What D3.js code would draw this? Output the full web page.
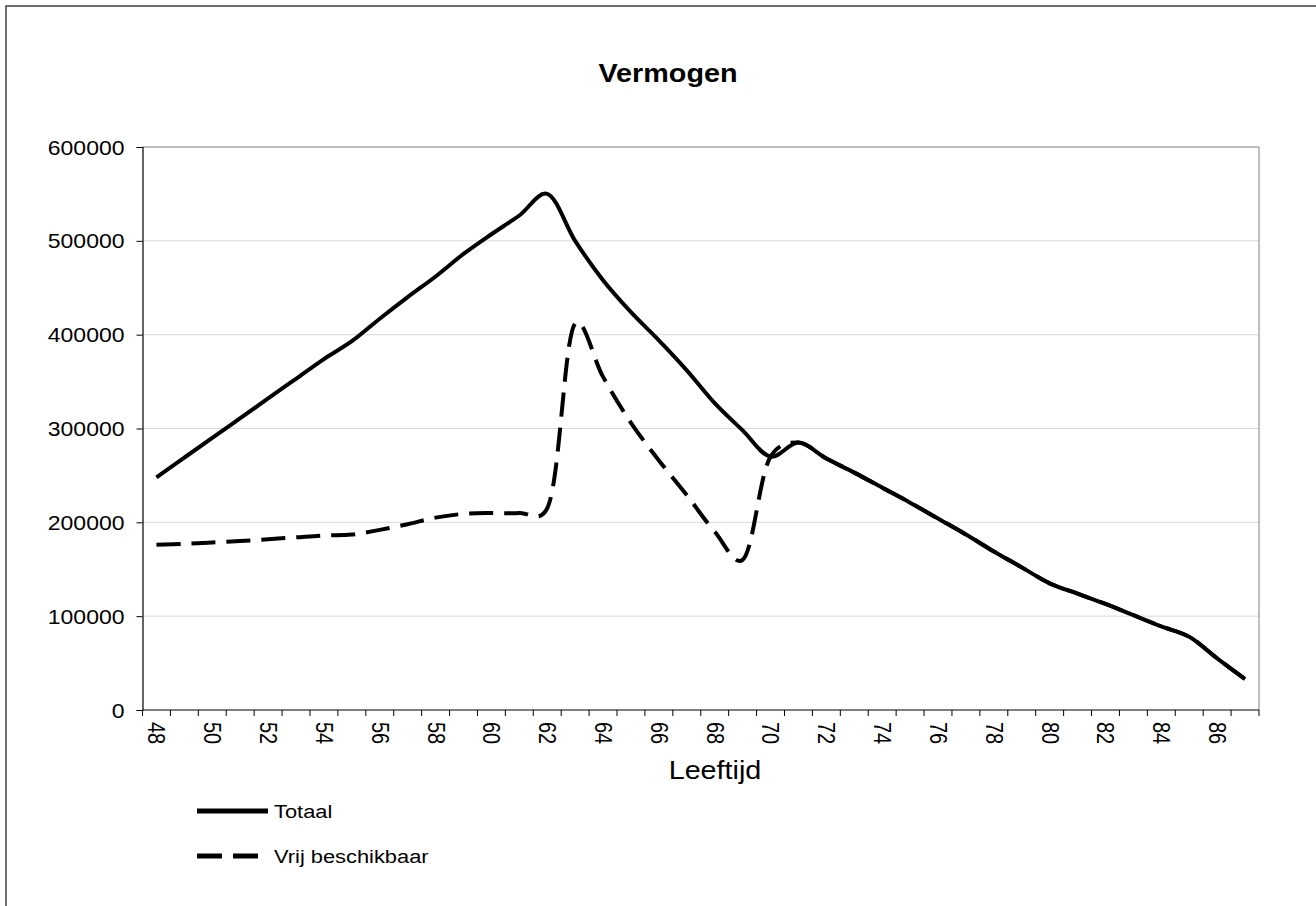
<!DOCTYPE html>
<html>
<head>
<meta charset="utf-8">
<script src="https://cdn.jsdelivr.net/npm/d3@7"></script>
<style>
  body { margin: 0; background: #fff; }
  text { font-family: Arial, "Liberation Sans", sans-serif; fill: #000; }
</style>
</head>
<body>
<svg width="1316" height="906"></svg>
<script>
var ages = [48,49,50,51,52,53,54,55,56,57,58,59,60,61,62,63,64,65,66,67,
            68,69,70,71,72,73,74,75,76,77,78,79,80,81,82,83,84,85,86,87]
var tickLabels = [48,50,52,54,56,58,60,62,64,66,68,70,72,74,76,78,80,82,84,86]
var yTicks = [0,100000,200000,300000,400000,500000,600000]

var totaal = [248000,269000,290000,311000,332000,353000,374000,393000,417000,440000,
              462000,486000,507000,527000,550000,500000,458000,424000,394000,362000,
              327000,298000,270000,285000,268000,253000,237000,221000,204000,187000,
              169000,152000,135000,124000,113000,101000,89000,78000,55000,33000]
var vrij = [176000,177000,178500,180000,182000,184000,186000,187000,192000,198000,
            205000,209000,210000,210000,215000,412000,355000,306000,266000,229000,
            190000,160000,270000,285000,268000,253000,237000,221000,204000,187000,
            169000,152000,135000,124000,113000,101000,89000,78000,55000,33000]

var seriesNames = ['Totaal', 'Vrij beschikbaar']

var svg = d3.select('svg')
var sx = 1.15 // picture is a bit wider than tall

// outer frame
svg.append('rect')
    .attr('x', 6).attr('y', 6)
    .attr('width', 1400).attr('height', 1000)
    .attr('fill', 'none')
    .attr('stroke', '#404040')
    .attr('stroke-width', 1.5)

var plotL = 142.5, plotR = 1259, plotT = 147, plotB = 710

var x = d3.scaleBand()
    .domain(ages)
    .range([plotL, plotR])
    .padding(0)

var y = d3.scaleLinear()
    .domain([0, 600000])
    .range([plotB, plotT])

// gridlines
svg.append('g')
    .selectAll('line')
    .data(yTicks.filter(function(d){ return d > 0 && d < 600000 }))
    .enter().append('line')
    .attr('x1', plotL).attr('x2', plotR)
    .attr('y1', function(d){ return y(d) }).attr('y2', function(d){ return y(d) })
    .attr('stroke', '#d9d9d9')
    .attr('stroke-width', 1)

// plot border top/right
svg.append('path')
    .attr('d', 'M' + plotL + ',' + y(600000) + 'H' + plotR + 'V' + plotB)
    .attr('fill', 'none')
    .attr('stroke', '#808080')
    .attr('stroke-width', 1)

// y axis
var yAxis = svg.append('g')
    .attr('transform', 'translate(' + plotL + ',0)')
    .call(d3.axisLeft(y).tickValues(yTicks).tickSize(6).tickPadding(0).tickFormat(d3.format('d')))
yAxis.select('.domain').attr('stroke', '#000').attr('stroke-width', 1.2)
yAxis.selectAll('.tick line').attr('stroke', '#000')
yAxis.selectAll('.tick text').remove()
yAxis.selectAll('.tick').append('g')
    .attr('transform', 'translate(-18,0) scale(' + sx + ',1)')
    .append('text')
    .attr('text-anchor', 'end')
    .attr('dy', '0.35em')
    .style('font-size', '20px')
    .text(function(d){ return d })

// x axis: ticks at category boundaries
var bounds = ages.map(function(a){ return x(a) }).concat([plotR])
svg.append('line')
    .attr('x1', plotL).attr('x2', plotR)
    .attr('y1', plotB).attr('y2', plotB)
    .attr('stroke', '#000').attr('stroke-width', 1.2)
svg.append('g').selectAll('line')
    .data(bounds)
    .enter().append('line')
    .attr('x1', function(d){ return d }).attr('x2', function(d){ return d })
    .attr('y1', plotB).attr('y2', plotB + 6)
    .attr('stroke', '#000')

svg.append('g').selectAll('g')
    .data(tickLabels)
    .enter().append('g')
    .attr('transform', function(d){
        return 'translate(' + (x(d) + x.bandwidth() / 2) + ',' + (plotB + 12) + ') scale(' + sx + ',1) rotate(90)'
    })
    .append('text')
    .attr('dy', '0.35em')
    .style('font-size', '20px')
    .text(function(d){ return d })

// lines
var line = d3.line()
    .x(function(d, i){ return x(ages[i]) + x.bandwidth() / 2 })
    .y(function(d){ return y(d) })
    .curve(d3.curveCatmullRom.alpha(0.25))

svg.append('path')
    .datum(vrij)
    .attr('d', line)
    .attr('fill', 'none')
    .attr('stroke', '#000')
    .attr('stroke-width', 4)
    .attr('stroke-dasharray', '24,11')

svg.append('path')
    .datum(totaal)
    .attr('d', line)
    .attr('fill', 'none')
    .attr('stroke', '#000')
    .attr('stroke-width', 4)

// title
svg.append('g')
    .attr('transform', 'translate(668,82) scale(' + sx + ',1)')
    .append('text')
    .attr('text-anchor', 'middle')
    .style('font-size', '25px')
    .style('font-weight', 'bold')
    .text('Vermogen')

// axis title
svg.append('g')
    .attr('transform', 'translate(715,779) scale(' + sx + ',1)')
    .append('text')
    .attr('text-anchor', 'middle')
    .style('font-size', '25px')
    .text('Leeftijd')

// legend
var legendY = [811, 856]
var leg = svg.append('g').selectAll('g')
    .data(seriesNames)
    .enter().append('g')
    .attr('transform', function(d, i){ return 'translate(197,' + legendY[i] + ')' })
leg.append('line')
    .attr('x1', 0).attr('x2', function(d, i){ return i == 0 ? 71 : 62 })
    .attr('y1', 0).attr('y2', 0)
    .attr('stroke', '#000')
    .attr('stroke-width', 5)
    .attr('stroke-dasharray', function(d, i){ return i == 0 ? null : '25,11' })
leg.append('g')
    .attr('transform', 'translate(77,0) scale(' + sx + ',1)')
    .append('text')
    .attr('dy', '0.35em')
    .style('font-size', '19px')
    .text(function(d){ return d })
</script>
</body>
</html>
